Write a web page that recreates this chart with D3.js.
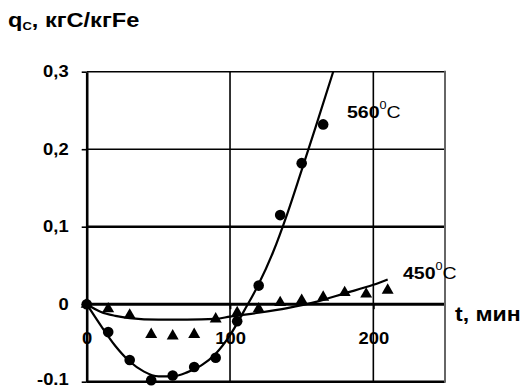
<!DOCTYPE html>
<html>
<head>
<meta charset="utf-8">
<script src="https://cdn.jsdelivr.net/npm/d3@7"></script>
<style>
  html, body { margin: 0; padding: 0; background: #fff; }
  svg { display: block; }
  text { font-family: "Liberation Sans", Arial, sans-serif; fill: #000; }
</style>
</head>
<body>
<svg id="chart" width="526" height="389"></svg>
<script>
// Measured points, 560 °C (circles)
const t560 = [0, 15, 30, 45, 60, 75, 90, 105, 120, 135, 150, 165];
const q560 = [0, -0.036, -0.072, -0.098, -0.092, -0.081, -0.069, -0.022, 0.024, 0.115, 0.182, 0.232];

// Measured points, 450 °C (triangles)
const t450 = [0, 15, 30, 45, 60, 75, 90, 105, 120, 135, 150, 165, 180, 195, 210];
const q450 = [0, -0.006, -0.014, -0.039, -0.041, -0.039, -0.019, -0.011, -0.006, 0.002, 0.005, 0.009, 0.015, 0.013, 0.018];

// Smoothed trend curves through the measurements
const fitT560 = [0, 10, 20, 30, 40, 50, 60, 70, 80, 90, 100, 110, 120, 130, 140, 150, 160, 172];
const fitQ560 = [0, -0.028, -0.054, -0.074, -0.087, -0.093, -0.093, -0.088, -0.079, -0.064, -0.040, -0.008, 0.026, 0.067, 0.117, 0.173, 0.230, 0.300];
const fitT450 = [0, 10, 20, 30, 50, 70, 90, 100, 120, 140, 160, 180, 200, 210];
const fitQ450 = [0, -0.010, -0.015, -0.018, -0.020, -0.020, -0.019, -0.016, -0.011, -0.005, 0.003, 0.014, 0.025, 0.032];

// Axes
const xTicks = [0, 100, 200];
const xTickLabels = ["0", "100", "200"];
const yTicks = [-0.1, 0, 0.1, 0.2, 0.3];
const yTickLabels = ["-0.1", "0", "0,1", "0,2", "0,3"];
const xDomain = [0, 250];
const yDomain = [-0.1, 0.3];

const svg = d3.select("#chart");
const x = d3.scaleLinear().domain(xDomain).range([86.7, 445]);
const y = d3.scaleLinear().domain(yDomain).range([381.7, 71.7]);
const STRETCH = 1.15;

// Horizontal grid lines (lower ones heavier)
const hWidth = v => (v === 0 ? 3 : (v <= 0.1 ? 2.4 : 1.5));
svg.append("g").selectAll("line").data(yTicks).join("line")
  .attr("x1", x(xDomain[0])).attr("x2", x(xDomain[1]))
  .attr("y1", d => y(d)).attr("y2", d => y(d))
  .attr("stroke", "#000").attr("stroke-width", hWidth);

// Vertical grid lines
svg.append("g").selectAll("line").data([100, 200]).join("line")
  .attr("x1", d => x(d)).attr("x2", d => x(d))
  .attr("y1", y(yDomain[0])).attr("y2", y(yDomain[1]))
  .attr("stroke", "#000").attr("stroke-width", 1.6);

// Right frame edge
svg.append("line")
  .attr("x1", x(xDomain[1])).attr("x2", x(xDomain[1]))
  .attr("y1", y(yDomain[0]) + 1).attr("y2", y(yDomain[1]) - 1)
  .attr("stroke", "#666").attr("stroke-width", 2);

// Y axis
const yAxis = d3.axisLeft(y)
  .tickValues(yTicks)
  .tickFormat((d, i) => yTickLabels[i])
  .tickSizeInner(5).tickSizeOuter(0).tickPadding(13);
const gy = svg.append("g").attr("transform", `translate(${x(0)},0)`).call(yAxis);
gy.select(".domain").attr("stroke", "#000").attr("stroke-width", 2.6);
gy.selectAll(".tick line").attr("stroke", "#000").attr("stroke-width", 1.6);
gy.selectAll(".tick text")
  .attr("font-size", 16).attr("font-weight", "bold")
  .attr("font-family", "'Liberation Sans', Arial, sans-serif")
  .each(function (d) {
    const t = d3.select(this);
    const tx = +t.attr("x");
    // keep the lowest label inside the canvas
    const lift = d === yDomain[0] ? -2.5 : 0;
    t.attr("x", 0).attr("transform", `translate(${tx},${lift}) scale(${STRETCH},1)`);
  });

// Curves
const line = d3.line().x(d => x(d[0])).y(d => y(d[1])).curve(d3.curveMonotoneX);
svg.append("path")
  .attr("d", line(fitT450.map((t, i) => [t, fitQ450[i]])))
  .attr("fill", "none").attr("stroke", "#000").attr("stroke-width", 2.2);
svg.append("path")
  .attr("d", line(fitT560.map((t, i) => [t, fitQ560[i]])))
  .attr("fill", "none").attr("stroke", "#000").attr("stroke-width", 2.2);

// X axis ticks and labels on the zero line
const xAxis = d3.axisBottom(x)
  .tickValues(xTicks)
  .tickFormat((d, i) => xTickLabels[i])
  .tickSizeInner(5).tickSizeOuter(0).tickPadding(23);
const gx = svg.append("g").attr("transform", `translate(0,${y(0)})`).call(xAxis);
gx.select(".domain").remove();
gx.selectAll(".tick line").attr("stroke", "#000").attr("stroke-width", 1.8);
gx.selectAll(".tick text")
  .attr("font-size", 16).attr("font-weight", "bold")
  .attr("font-family", "'Liberation Sans', Arial, sans-serif")
  .attr("transform", `scale(${STRETCH},1)`);

// Markers
const tri = d3.symbol().type(d3.symbolTriangle).size(62);
svg.append("g").selectAll("path").data(t450.map((t, i) => [t, q450[i]])).join("path")
  .attr("d", tri)
  .attr("transform", d => `translate(${x(d[0])},${y(d[1])})`)
  .attr("fill", "#000");
svg.append("g").selectAll("circle").data(t560.map((t, i) => [t, q560[i]])).join("circle")
  .attr("cx", d => x(d[0])).attr("cy", d => y(d[1]))
  .attr("r", 5.3).attr("fill", "#000");

// Text helper: bold, slightly widened
function label(px, py, size, stretch) {
  return svg.append("text")
    .attr("transform", `translate(${px},${py}) scale(${stretch},1)`)
    .attr("font-size", size).attr("font-weight", "bold");
}

// Temperature labels
function tempLabel(px, py, value) {
  const t = label(px, py, 17, STRETCH);
  t.append("tspan").text(value);
  t.append("tspan").attr("font-size", 11).attr("font-weight", "normal").attr("dy", -9).text("0");
  t.append("tspan").attr("font-weight", "normal").attr("dy", 9).text("C");
}
tempLabel(347, 117.5, "560");
tempLabel(403, 279, "450");

// Y axis title
const yt = label(8, 27, 20, 1.18);
yt.append("tspan").text("q");
yt.append("tspan").attr("font-size", 11).attr("dy", 3).text("C");
yt.append("tspan").attr("dy", -3).text(", кгC/кгFe");

// X axis title
label(455, 321, 21, 1.1).text("t, мин");
</script>
</body>
</html>
